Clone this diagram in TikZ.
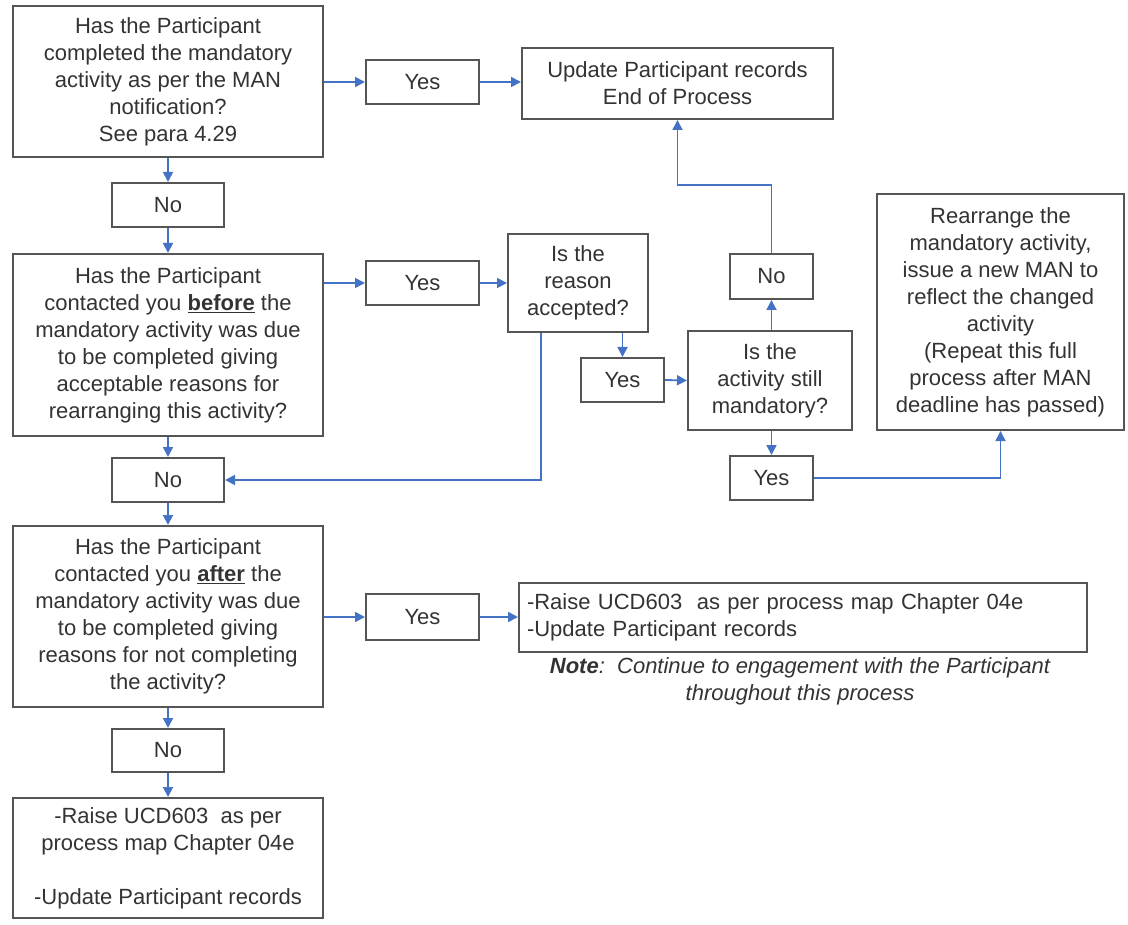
\documentclass[tikz,border=0pt]{standalone}
\usepackage{fontspec}
\setmainfont{Liberation Sans}
\usetikzlibrary{arrows.meta}
\definecolor{boxline}{HTML}{555555}
\definecolor{ink}{HTML}{333333}
\definecolor{flow}{HTML}{4472C4}
\begin{document}
\begin{tikzpicture}[x=1pt,y=-1pt,
  every node/.style={font=\fontsize{22}{27}\selectfont, text=ink},
  box/.style={draw=boxline, line width=2pt, fill=white, inner sep=0pt, align=center},
  arr/.style={draw=flow, line width=1.8pt, -{Triangle[length=10pt,width=10pt]}},
  link/.style={draw=flow, line width=1.8pt}]
\useasboundingbox (0,0) rectangle (1128,925);

% decision and answer boxes
\node[box, minimum width=310, minimum height=151] (q1) at (168,82)
  {Has the Participant\\completed the mandatory\\activity as per the MAN\\notification?\\See para 4.29};
\node[box, minimum width=113, minimum height=44] (yes1) at (422.5,82) {Yes};
\node[box, minimum width=311, minimum height=71] (upd) at (677.5,83.5)
  {Update Participant records\\End of Process};
\node[box, minimum width=112, minimum height=44] (no1) at (168,205) {No};

\node[box, minimum width=310, minimum height=182] (q2) at (168,345)
  {Has the Participant\\contacted you \underline{\textbf{before}} the\\mandatory activity was due\\to be completed giving\\acceptable reasons for\\rearranging this activity?};
\node[box, minimum width=113, minimum height=44] (yes2) at (422.5,283) {Yes};
\node[box, minimum width=140, minimum height=98] (reason) at (578,283)
  {Is the\\reason\\accepted?};
\node[box, minimum width=83, minimum height=44] (yes3) at (622.5,380) {Yes};
\node[box, minimum width=164, minimum height=99] (still) at (770,380.5)
  {Is the\\activity still\\mandatory?};
\node[box, minimum width=83, minimum height=45] (no3) at (771.5,276.5) {No};
\node[box, minimum width=83, minimum height=44] (yes4) at (771.5,478) {Yes};
\node[box, minimum width=247, minimum height=236] (rearr) at (1000.5,312)
  {Rearrange the\\mandatory activity,\\issue a new MAN to\\reflect the changed\\activity\\(Repeat this full\\process after MAN\\deadline has passed)};
\node[box, minimum width=112, minimum height=44] (no2) at (168,480) {No};

\node[box, minimum width=310, minimum height=181] (q3) at (168,616.5)
  {Has the Participant\\contacted you \underline{\textbf{after}} the\\mandatory activity was due\\to be completed giving\\reasons for not completing\\the activity?};
\node[box, minimum width=113, minimum height=46] (yes5) at (422.5,617) {Yes};
\node[box, minimum width=568, minimum height=69, align=left, text width=552] (res) at (803,617.5)
  {-Raise UCD603\ \ as per process map Chapter 04e\\-Update Participant records};
\node[align=center, font=\fontsize{22}{27}\selectfont\itshape] (note) at (800,681)
  {\textbf{Note}:\ \ Continue to engagement with the Participant\\throughout this process};
\node[box, minimum width=112, minimum height=43] (no4) at (168,750.5) {No};
\node[box, minimum width=310, minimum height=120] (fin) at (168,858)
  {-Raise UCD603\ \ as per\\process map Chapter 04e\\[27pt]-Update Participant records};

% main column
\draw[arr] (q1.south) -- (no1.north);
\draw[arr] (no1.south) -- (q2.north);
\draw[arr] (q2.south) -- (no2.north);
\draw[arr] (no2.south) -- (q3.north);
\draw[arr] (q3.south) -- (no4.north);
\draw[arr] (no4.south) -- (fin.north);

% yes branches
\draw[arr] (q1.east |- yes1.west) -- (yes1.west);
\draw[arr] (yes1.east) -- (yes1.east -| upd.west);
\draw[arr] (q2.east |- yes2.west) -- (yes2.west);
\draw[arr] (yes2.east) -- (reason.west);
\draw[arr] (q3.east |- yes5.west) -- (yes5.west);
\draw[arr] (yes5.east) -- (yes5.east -| res.west);

% reason accepted / still mandatory loop
\draw[arr] (yes3.north |- reason.south) -- (yes3.north);
\draw[arr] ([xshift=-37pt]reason.south) |- (no2.east);
\draw[arr] (yes3.east) -- (still.west);
\draw[arr] (still.north -| no3.south) -- (no3.south);
\draw[arr] (no3.north) -- (no3.north |- 0,185) -| (upd.south);
\draw[arr] (still.south -| yes4.north) -- (yes4.north);
\draw[arr] (yes4.east) -| (rearr.south);
\end{tikzpicture}
\end{document}
